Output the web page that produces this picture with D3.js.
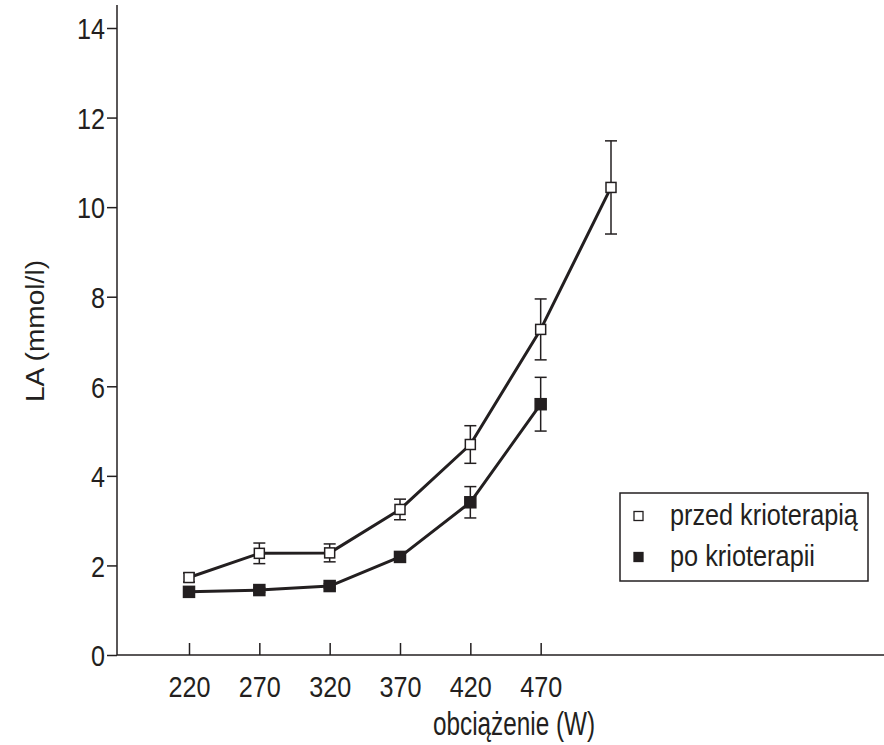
<!DOCTYPE html>
<html>
<head>
<meta charset="utf-8">
<script src="https://cdn.jsdelivr.net/npm/d3@7"></script>
<style>
  body { margin: 0; background: #fff; }
  text { font-family: "Liberation Sans Narrow", "Arial Narrow", "Liberation Sans", sans-serif; fill: #231f20; }
</style>
</head>
<body>
<div id="chart"></div>
<script>
// data
const loads = [220, 270, 320, 370, 420, 470, 520];
const tickLabels = ["220", "270", "320", "370", "420", "470"];
const yTicks = [0, 2, 4, 6, 8, 10, 12, 14];

const przedMean = [1.73, 2.27, 2.28, 3.25, 4.7, 7.27, 10.44];
const przedErr = [0.1, 0.23, 0.2, 0.23, 0.42, 0.68, 1.04];
const poMean = [1.41, 1.45, 1.54, 2.19, 3.41, 5.6];
const poErr = [0.05, 0.05, 0.05, 0.05, 0.35, 0.6];

const seriesNames = ["przed krioterapią", "po krioterapii"];
const legendWidths = [188, 145];

const width = 884;
const height = 745;
const ink = "#231f20";
const digitW = 14; // condensed digit width

const svg = d3
  .select("#chart")
  .append("svg")
  .attr("width", width)
  .attr("height", height);

// scales
const xScale = d3
  .scalePoint()
  .domain(loads)
  .range([189, 611]);

const yScale = d3
  .scaleLinear()
  .domain([0, 14])
  .range([655, 28]);

const x0 = 117;

// Y axis
const yAxis = svg
  .append("g")
  .attr("transform", `translate(${x0}, 0)`)
  .call(d3.axisLeft(yScale).tickValues(yTicks).tickSize(10).tickPadding(2));
yAxis.select(".domain").remove();
yAxis.selectAll("line").attr("stroke", ink).attr("stroke-width", 1.5);
yAxis
  .selectAll("text")
  .style("font-size", "30px")
  .attr("dy", "0.36em")
  .attr("textLength", (d) => String(d).length * digitW)
  .attr("lengthAdjust", "spacingAndGlyphs");

svg
  .append("line")
  .attr("x1", x0)
  .attr("x2", x0)
  .attr("y1", yScale(0))
  .attr("y2", yScale(14) - 23)
  .attr("stroke", ink)
  .attr("stroke-width", 1.5);

// X axis
const xAxis = svg
  .append("g")
  .attr("transform", `translate(0, ${yScale(0)})`)
  .call(
    d3
      .axisBottom(xScale)
      .tickValues(loads.slice(0, tickLabels.length))
      .tickFormat((d, i) => tickLabels[i])
      .tickSizeInner(-12)
      .tickSizeOuter(0)
      .tickPadding(0)
  );
xAxis.select(".domain").remove();
xAxis.selectAll("line").attr("stroke", ink).attr("stroke-width", 1.5);
xAxis
  .selectAll("text")
  .style("font-size", "30px")
  .attr("y", 42)
  .attr("dy", 0)
  .attr("textLength", (d, i) => tickLabels[i].length * digitW)
  .attr("lengthAdjust", "spacingAndGlyphs");

svg
  .append("line")
  .attr("x1", x0)
  .attr("x2", width)
  .attr("y1", yScale(0))
  .attr("y2", yScale(0))
  .attr("stroke", ink)
  .attr("stroke-width", 1.5);

// axis titles
svg
  .append("text")
  .attr("x", 514)
  .attr("y", 735)
  .attr("text-anchor", "middle")
  .attr("textLength", 162)
  .attr("lengthAdjust", "spacingAndGlyphs")
  .style("font-size", "34px")
  .text("obciążenie (W)");

svg
  .append("text")
  .attr("transform", "translate(44, 331) rotate(-90)")
  .attr("text-anchor", "middle")
  .attr("textLength", 142)
  .attr("lengthAdjust", "spacingAndGlyphs")
  .style("font-size", "26px")
  .text("LA (mmol/l)");

// series
const series = [
  { mean: przedMean, err: przedErr, fill: "#fff", size: 10 },
  { mean: poMean, err: poErr, fill: ink, size: 11 },
];

const line = d3
  .line()
  .x((d, i) => xScale(loads[i]))
  .y((d) => yScale(d));

series.forEach((s) => {
  svg
    .append("path")
    .datum(s.mean)
    .attr("d", line)
    .attr("fill", "none")
    .attr("stroke", ink)
    .attr("stroke-width", 3)
    .attr("stroke-linejoin", "round");

  const eb = svg
    .append("g")
    .selectAll("g")
    .data(s.mean)
    .join("g")
    .attr("stroke", ink)
    .attr("stroke-width", 1.5);

  eb.append("line")
    .attr("x1", (d, i) => xScale(loads[i]))
    .attr("x2", (d, i) => xScale(loads[i]))
    .attr("y1", (d, i) => yScale(d + s.err[i]))
    .attr("y2", (d, i) => yScale(d - s.err[i]));

  [1, -1].forEach((sign) => {
    eb.append("line")
      .attr("x1", (d, i) => xScale(loads[i]) - 6)
      .attr("x2", (d, i) => xScale(loads[i]) + 6)
      .attr("y1", (d, i) => yScale(d + sign * s.err[i]))
      .attr("y2", (d, i) => yScale(d + sign * s.err[i]));
  });

  svg
    .append("g")
    .selectAll("rect")
    .data(s.mean)
    .join("rect")
    .attr("x", (d, i) => xScale(loads[i]) - s.size / 2)
    .attr("y", (d) => yScale(d) - s.size / 2)
    .attr("width", s.size)
    .attr("height", s.size)
    .attr("fill", s.fill)
    .attr("stroke", ink)
    .attr("stroke-width", 1.5);
});

// legend
const legend = svg.append("g").attr("transform", "translate(620, 493)");

legend
  .append("rect")
  .attr("width", 248)
  .attr("height", 88)
  .attr("fill", "#fff")
  .attr("stroke", ink)
  .attr("stroke-width", 1.5);

const item = legend
  .selectAll(".item")
  .data(seriesNames)
  .join("g")
  .attr("class", "item")
  .attr("transform", (d, i) => `translate(0, ${23 + i * 41})`);

item
  .append("rect")
  .attr("x", 14)
  .attr("y", -4.5)
  .attr("width", 9)
  .attr("height", 9)
  .attr("fill", (d, i) => series[i].fill)
  .attr("stroke", ink)
  .attr("stroke-width", 1.3);

// squeeze legend labels horizontally so they fit the box like the condensed original
item
  .append("g")
  .attr("transform", "translate(50, 9)")
  .append("text")
  .style("font-size", "29px")
  .text((d) => d)
  .each(function (d, i) {
    const natural = this.getComputedTextLength();
    d3.select(this).attr("transform", `scale(${legendWidths[i] / natural}, 1)`);
  });
</script>
</body>
</html>
